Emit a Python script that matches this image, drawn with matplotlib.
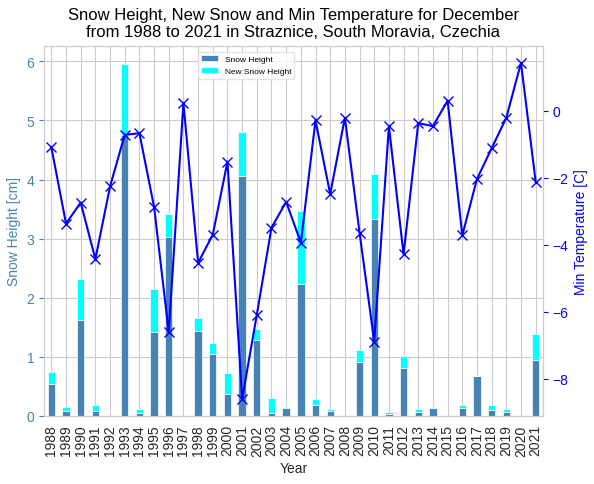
"""Snow height, new snow and min temperature in December, Straznice 1988-2021."""

import matplotlib
matplotlib.use("Agg")
import matplotlib.pyplot as plt
import numpy as np


YEARS = list(range(1988, 2022))

SNOW_HEIGHT = [
    0.54, 0.09, 1.63, 0.09, 0.0, 4.76, 0.05, 1.42, 3.02, 0.0,
    1.44, 1.05, 0.37, 4.06, 1.28, 0.05, 0.13, 2.23, 0.19, 0.09,
    0.0, 0.91, 3.34, 0.03, 0.81, 0.06, 0.13, 0.0, 0.13, 0.67,
    0.10, 0.06, 0.0, 0.95,
]
NEW_SNOW = [
    0.20, 0.07, 0.68, 0.10, 0.0, 1.20, 0.07, 0.73, 0.39, 0.0,
    0.22, 0.19, 0.36, 0.74, 0.19, 0.25, 0.03, 1.24, 0.09, 0.03,
    0.0, 0.21, 0.75, 0.03, 0.21, 0.06, 0.03, 0.0, 0.06, 0.0,
    0.09, 0.06, 0.0, 0.43,
]
MIN_TEMP = [
    -1.09, -3.37, -2.74, -4.43, -2.26, -0.72, -0.67, -2.87, -6.61, 0.23,
    -4.54, -3.70, -1.52, -8.61, -6.09, -3.49, -2.72, -3.94, -0.29, -2.49,
    -0.21, -3.64, -6.89, -0.46, -4.29, -0.37, -0.46, 0.30, -3.72, -2.04,
    -1.12, -0.21, 1.43, -2.12,
]

plt.rcParams["font.family"] = ["Liberation Sans", "DejaVu Sans"]

fig, ax = plt.subplots(figsize=(5.94, 4.85), dpi=100)
fig.subplots_adjust(left=44 / 594, right=543 / 594, top=1 - 47 / 485, bottom=1 - 417 / 485)

x = np.arange(len(YEARS))
ax.bar(x, SNOW_HEIGHT, width=0.5, color="steelblue", edgecolor="white", linewidth=0.5,
       label="Snow Height", zorder=2)
ax.bar(x, NEW_SNOW, width=0.5, bottom=SNOW_HEIGHT, color="cyan", edgecolor="white",
       linewidth=0.5, label="New Snow Height", zorder=2)

ax.set_xlim(-0.5, len(YEARS) - 0.5)
ax.set_xticks(x)
ax.set_xticklabels([str(y) for y in YEARS], rotation=90, fontsize=10, color="#262626")
ax.set_xlabel("Year", fontsize=10, color="#262626", labelpad=4)
ax.set_ylabel("Snow Height [cm]", color="steelblue", fontsize=10)
ax.tick_params(axis="y", colors="steelblue", labelsize=10, length=3.5, width=0.8)
ax.tick_params(axis="x", length=0, pad=6)
ax.grid(True, color="#cccccc", linewidth=0.8, zorder=0)
ax.set_axisbelow(True)
for spine in ax.spines.values():
    spine.set_color("#cccccc")
ax.legend(loc="upper left", bbox_to_anchor=(0.3, 0.995), fontsize=6, frameon=True,
          edgecolor="#dddddd")

ax2 = ax.twinx()
ax2.plot(x, MIN_TEMP, color="blue", marker="x", markersize=7, linewidth=1.5)
ax2.set_ylabel("Min Temperature [C]", color="blue", fontsize=10)
ax2.tick_params(axis="y", colors="blue", labelsize=10, length=3.5, width=0.8)
ax2.grid(False)
for spine in ax2.spines.values():
    spine.set_color("#cccccc")

ax.set_title("Snow Height, New Snow and Min Temperature for December\n"
             "from 1988 to 2021 in Straznice, South Moravia, Czechia", fontsize=12, pad=7)

fig.savefig("out.png", dpi=100)
